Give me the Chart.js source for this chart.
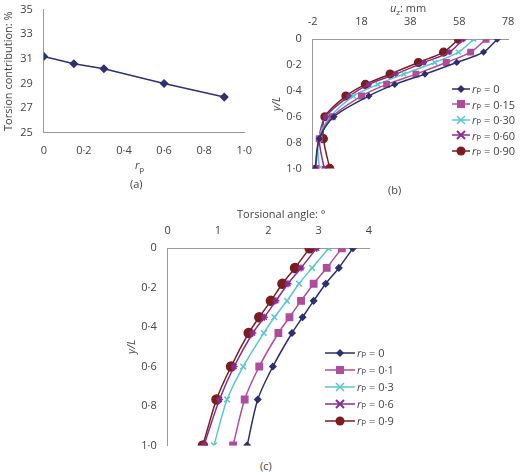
<!DOCTYPE html>
<html><head><meta charset="utf-8">
<script src="https://cdn.jsdelivr.net/npm/chart.js@4"></script>
<style>
body{margin:0;width:520px;height:474px;position:relative;font-family:"Open Sans",sans-serif;background:#fff;color:#444;overflow:hidden}
canvas{position:absolute}
.lbl{position:absolute;font-size:11px;color:#444}
.leg{position:absolute;font-size:11px;color:#444;line-height:15.5px;width:80px}
.leg div{display:flex;align-items:center;white-space:nowrap}
</style></head><body>
<canvas id="ca" width="255" height="160" style="left:0;top:0"></canvas>
<canvas id="cb" width="250" height="178" style="left:270px;top:0"></canvas>
<canvas id="cc" width="290" height="240" style="left:125px;top:215px"></canvas>
<div class="lbl" style="left:135px;top:157px"><i>r</i><sub style="font-size:8px">p</sub></div>
<div class="lbl" style="left:130px;top:176px">(a)</div>
<div class="lbl" style="left:390px;top:0px"><i>u</i><sub style="font-size:8px">z</sub>: mm</div>
<div class="lbl" style="left:388px;top:182px">(b)</div>
<div class="lbl" style="left:237px;top:206px">Torsional angle: °</div>
<div class="lbl" style="left:260px;top:458px">(c)</div>
<div class="leg" id="lb" style="left:452px;top:81px"></div>
<div class="leg" id="lc" style="left:325px;top:344px;line-height:17px"></div>
<script>
const rpA=[0,0.15,0.3,0.6,0.9];
const torsionA=[31.2,30.6,30.2,29.0,27.9];

const yB=[0,0.1,0.18,0.27,0.35,0.44,0.6,0.77,1.0];
const uz0=[73.6,68,57,44,31.6,21,6.7,0.7,-1];
const uz15=[69,62.7,52.7,40.3,28.3,18,6,0.7,-0.7];
const uz30=[64,57.7,48,35.3,24.7,14.7,5.3,0.3,0.7];
const uz60=[59.7,54,43.6,32,21,13,3.3,0.7,2.7];
const uz90=[57.7,51.6,41.3,29.7,19.6,11.6,3,2.4,5];
const ticksB=[-2,18,38,58,78];

const yC=[0,0.1,0.18,0.267,0.35,0.43,0.6,0.767,1.0];
const ang0=[3.68,3.40,3.14,2.90,2.68,2.47,2.09,1.79,1.58];
const ang1=[3.46,3.16,2.90,2.65,2.42,2.20,1.82,1.53,1.30];
const ang3=[3.20,2.87,2.61,2.37,2.12,1.91,1.50,1.18,0.92];
const ang6=[2.96,2.65,2.39,2.15,1.92,1.69,1.32,1.03,0.72];
const ang9=[2.82,2.53,2.28,2.05,1.82,1.61,1.26,0.97,0.70];

const cols=['#2f2f6b','#b04c9c','#5cc6cf','#8a2c8c','#7a1d1f'];
const styles=['rectRot','rect','crossRot','star','circle'];
const radii=[3,4.5,4,3.5,4.5];
const dot=v=>String(v).replace('.','·');
Chart.defaults.font.family='"Open Sans",sans-serif';
Chart.defaults.font.size=11;
Chart.defaults.color='#444';
const axc='#999';

new Chart(document.getElementById('ca'),{type:'scatter',
 data:{datasets:[{data:rpA.map((x,i)=>({x,y:torsionA[i]})),showLine:true,borderColor:'#2f3170',backgroundColor:'#2f3170',pointStyle:'rectRot',pointRadius:3.5,borderWidth:1.5}]},
 options:{responsive:false,animation:false,plugins:{legend:{display:false}},layout:{padding:{top:8,right:8}},
  scales:{x:{min:0,max:1,ticks:{stepSize:0.2,callback:v=>v===1?'1·0':dot(Math.round(v*10)/10)},grid:{display:false},border:{color:axc}},
   y:{min:25,max:35,ticks:{stepSize:2},grid:{display:false},border:{color:axc},title:{display:true,text:'Torsion contribution: %',padding:2}}}}});

function mkLines(ys,series,labels,sc){
 return series.map((s,k)=>({label:labels[k],data:s.map((x,i)=>({x,y:ys[i]})),showLine:true,tension:0.3,
  borderColor:cols[k],backgroundColor:cols[k],pointStyle:styles[k],pointRadius:radii[k]*sc,borderWidth:1.5,pointBorderWidth:1.5}));
}
function yAx(){return {reverse:true,min:0,max:1,ticks:{stepSize:0.2,callback:v=>v===0?'0':(v===1?'1·0':dot(Math.round(v*10)/10))},grid:{display:false},border:{color:axc},title:{display:true,text:'y/L',font:{style:'italic'},padding:0}};}

new Chart(document.getElementById('cb'),{type:'scatter',
 data:{datasets:mkLines(yB,[uz0,uz15,uz30,uz60,uz90],['0','0·15','0·30','0·60','0·90'],0.85)},
 options:{responsive:false,animation:false,plugins:{legend:{display:false}},layout:{padding:{top:12,right:12,bottom:4}},
  scales:{x:{position:'top',min:-2,max:78,afterBuildTicks:a=>{a.ticks=ticksB.map(v=>({value:v}))},grid:{display:false},border:{color:axc}},y:yAx()}}});

new Chart(document.getElementById('cc'),{type:'scatter',
 data:{datasets:mkLines(yC,[ang0,ang1,ang3,ang6,ang9],['0','0·1','0·3','0·6','0·9'],1)},
 options:{responsive:false,animation:false,plugins:{legend:{display:false}},layout:{padding:{top:6,right:46,bottom:4}},
  scales:{x:{position:'top',min:0,max:4,ticks:{stepSize:1},grid:{display:false},border:{color:axc}},y:yAx()}}});

function marker(k,w){
 const c=cols[k];const m0=w/2;let m='';
 if(k===0)m=`<polygon points="${m0},1 ${m0+4},5 ${m0},9 ${m0-4},5" fill="${c}"/>`;
 if(k===1)m=`<rect x="${m0-4}" y="1" width="8" height="8" fill="${c}"/>`;
 if(k===2)m=`<path d="M${m0-4},1L${m0+4},9M${m0+4},1L${m0-4},9" stroke="${c}" stroke-width="1.5"/>`;
 if(k===3)m=`<path d="M${m0-4},1L${m0+4},9M${m0+4},1L${m0-4},9" stroke="${c}" stroke-width="2"/>`;
 if(k===4)m=`<circle cx="${m0}" cy="5" r="4.5" fill="${c}"/>`;
 return `<svg width="${w}" height="10" style="margin-right:2px;flex:none"><line x1="0" y1="5" x2="${w}" y2="5" stroke="${c}" stroke-width="1.5"/>${m}</svg>`;
}
function leg(id,labels,w){document.getElementById(id).innerHTML=labels.map((l,k)=>`<div>${marker(k,w)}<i>r</i><sub style="font-size:8px">p</sub>&nbsp;= ${l}</div>`).join('');}
leg('lb',['0','0·15','0·30','0·60','0·90'],18);
leg('lc',['0','0·1','0·3','0·6','0·9'],30);
</script></body></html>
